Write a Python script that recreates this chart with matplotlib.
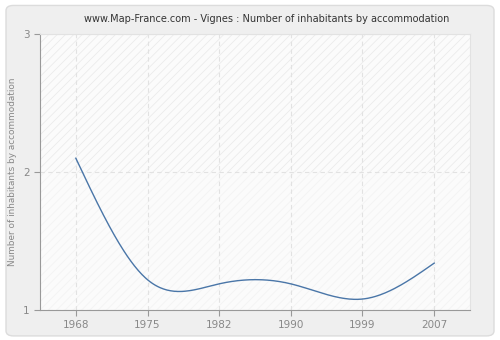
import numpy as np
import matplotlib
matplotlib.use("Agg")
import matplotlib.pyplot as plt
from matplotlib.patches import FancyBboxPatch, Rectangle

years = ["1968", "1975", "1982", "1990", "1999", "2007"]
values = [2.10, 1.22, 1.19, 1.19, 1.08, 1.34]
yticks = [1, 2, 3]
title = "www.Map-France.com - Vignes : Number of inhabitants by accommodation"
ylabel = "Number of inhabitants by accommodation"


def natural_spline(x, y, n=300):
    x = np.asarray(x, float)
    y = np.asarray(y, float)
    k = len(x)
    h = np.diff(x)
    A = np.zeros((k, k))
    b = np.zeros(k)
    A[0, 0] = 1
    A[-1, -1] = 1
    for i in range(1, k - 1):
        A[i, i - 1] = h[i - 1]
        A[i, i] = 2 * (h[i - 1] + h[i])
        A[i, i + 1] = h[i]
        b[i] = 6 * ((y[i + 1] - y[i]) / h[i] - (y[i] - y[i - 1]) / h[i - 1])
    M = np.linalg.solve(A, b)
    xs = np.linspace(x[0], x[-1], n)
    ys = np.empty_like(xs)
    for j, t in enumerate(xs):
        i = min(np.searchsorted(x, t, side="right") - 1, k - 2)
        a = x[i + 1] - t
        c = t - x[i]
        ys[j] = (M[i] * a ** 3 + M[i + 1] * c ** 3) / (6 * h[i]) + \
            (y[i] / h[i] - M[i] * h[i] / 6) * a + (y[i + 1] / h[i] - M[i + 1] * h[i] / 6) * c
    return xs, ys


fig = plt.figure(figsize=(5, 3.4), dpi=100)
fig.patch.set_facecolor("white")
panel = FancyBboxPatch((0.012, 0.012), 0.976, 0.972, boxstyle="round,pad=0,rounding_size=0.015",
                       transform=fig.transFigure, facecolor="#efefef", edgecolor="#dcdcdc",
                       linewidth=1.0, zorder=-10)
fig.patches.append(panel)

ax = fig.add_axes([0.08, 0.088, 0.86, 0.812])
ax.set_facecolor("#fbfbfb")
xi = np.arange(len(years))
ax.set_xlim(-0.5, len(years) - 0.5)
ax.set_ylim(1, 3)

plt.rcParams["hatch.linewidth"] = 0.6
ax.add_patch(Rectangle((-0.5, 1), len(years), 1, facecolor="none", edgecolor="#f3f3f3",
                       hatch="////", linewidth=0, zorder=0))
ax.add_patch(Rectangle((-0.5, 2), len(years), 1, facecolor="none", edgecolor="#ebebeb",
                       hatch="////", linewidth=0, zorder=0))

xs, ys = natural_spline(xi, values)
ax.plot(xs, ys, color="#4a76a8", linewidth=1.0, zorder=3)

ax.set_xticks(xi)
ax.set_xticklabels(years)
ax.set_yticks(yticks)
ax.grid(True, color="#e2e2e2", linestyle=(0, (4, 3)), linewidth=0.8, zorder=1)
ax.set_axisbelow(True)

for s in ["top", "right"]:
    ax.spines[s].set_color("#e2e2e2")
for s in ["left", "bottom"]:
    ax.spines[s].set_color("#999999")
ax.tick_params(axis="both", colors="#999999", labelcolor="#888888", labelsize=7.5, length=4, width=0.8)

ax.set_ylabel(ylabel, fontsize=6.4, color="#888888")
fig.text(0.533, 0.945, title, ha="center", va="center", fontsize=7.0, color="#333333")

fig.savefig("out.png", dpi=100, facecolor=fig.get_facecolor())
